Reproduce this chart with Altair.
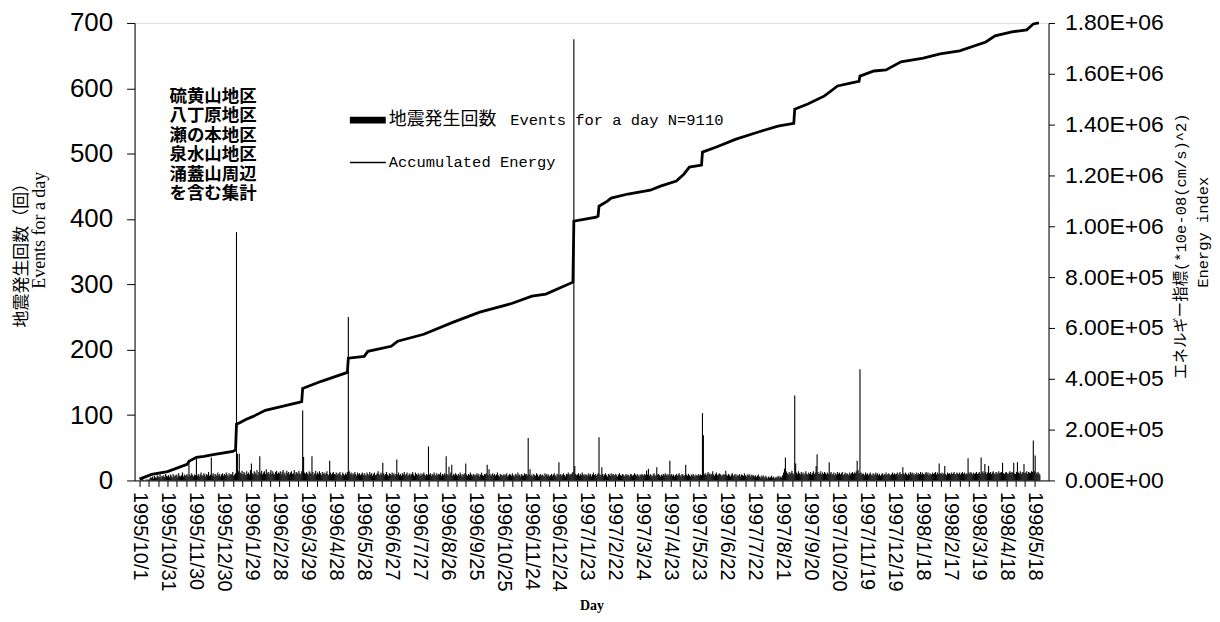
import altair as alt
import pandas as pd

# ---- daily event counts, in 30-day blocks starting 1995/10/1 ----
b00 = [0,1,0,2,1,0,1,0,2,1, 1,3,5,4,6,3,7,5,4,8, 6,5,9,4,7,6,8,5,10,7]
b01 = [6,8,5,9,7,4,10,6,8,7, 9,5,11,7,6,8,12,6,9,7, 8,10,6,28,9,7,11,8,6,9]
b02 = [8,33,7,10,6,9,12,8,7,11, 9,6,10,8,13,7,9,35,8,11, 6,10,9,7,12,8,10,6,9,11]
b03 = [7,10,8,12,9,6,11,8,10,9, 13,7,9,11,380,41,14,41,12,10, 15,9,13,11,8,14,10,12,9,16]
b04 = [26,11,9,14,12,10,16,8,13,37, 11,15,9,12,14,10,17,11,13,9, 12,16,10,14,11,9,13,15,10,12]
b05 = [11,14,9,13,16,10,12,8,15,11, 13,9,12,14,10,11,16,9,13,12, 10,15,11,9,14,107,36,12,10,13]
b06 = [11,9,14,12,10,37,13,8,11,15, 9,12,10,14,11,8,13,10,12,9, 11,14,10,8,30,12,9,11,13,10]
b07 = [9,12,8,11,10,13,9,7,12,10, 8,11,9,13,250,14,10,12,8,11, 9,13,10,7,12,9,11,8,10,12]
b08 = [8,11,9,7,12,10,8,13,9,11, 7,10,12,8,9,11,14,10,8,12, 9,27,11,8,10,13,9,7,11,10]
b09 = [8,12,9,11,7,10,32,9,12,8, 10,7,11,9,13,8,10,12,7,9, 11,8,10,13,9,7,12,10,8,11]
b10 = [9,7,11,8,10,12,9,7,10,8, 52,9,11,7,10,8,12,9,7,11, 8,10,9,12,7,10,8,11,9,37]
b11 = [10,8,21,9,12,24,7,10,8,11, 9,7,10,8,12,9,6,10,8,11, 26,9,7,10,8,12,9,7,10,8]
b12 = [9,7,11,8,10,6,9,12,8,7, 10,9,11,24,8,17,10,7,9,11, 8,10,7,9,12,8,6,10,9,7]
b13 = [8,10,7,9,11,6,8,10,9,7, 11,8,6,9,10,7,12,8,9,6, 10,8,7,11,9,10,8,65,9,17]
b14 = [7,9,6,10,8,7,11,9,6,8, 10,7,9,8,6,11,8,10,7,9, 6,8,10,7,9,11,8,6,10,9]
b15 = [28,8,10,7,9,11,8,6,10,9, 12,8,10,9,11,13,675,22,10,8, 9,11,7,10,8,12,9,7,10,8]
b16 = [9,7,11,8,10,6,9,12,8,10, 7,9,11,66,9,8,20,10,7,9, 11,8,6,10,9,7,11,8,10,9]
b17 = [7,10,8,6,9,11,8,7,10,9, 6,8,10,7,9,8,6,10,9,7, 8,11,9,7,10,8,6,9,8,10]
b18 = [9,7,10,8,15,9,18,7,10,8, 6,9,11,8,7,20,9,10,8,6, 9,7,10,8,11,9,7,10,8,30]
b19 = [8,10,7,9,6,8,10,7,9,11, 8,6,10,9,7,8,24,9,7,10, 8,6,9,7,10,8,6,9,7,8]
b20 = [10,7,9,8,103,69,9,11,8,10, 13,9,11,8,10,14,9,7,10,12, 8,9,11,10,8,7,9,10,8,15]
b21 = [9,7,10,8,6,9,11,7,8,10, 6,9,7,8,10,6,9,8,7,11, 8,6,9,7,10,8,6,9,7,8]
b22 = [6,8,5,7,9,6,4,7,5,8, 6,4,7,5,3,6,4,5,7,4, 6,3,5,4,6,5,7,4,6,5]
b23 = [8,12,18,35,14,11,9,13,10,12, 15,11,9,130,26,12,10,14,11,9, 13,10,12,8,11,14,10,9,12,10]
b24 = [13,9,11,14,10,12,22,40,13,10, 11,14,9,12,10,13,11,9,12,10, 28,11,13,9,10,12,8,11,9,13]
b25 = [10,12,9,11,13,8,10,12,9,11, 10,8,12,9,11,13,10,12,11,14, 30,16,11,170,12,9,11,10,8,12]
b26 = [9,11,8,10,12,9,7,11,10,8, 12,9,11,8,10,7,9,11,8,10, 9,12,8,10,11,9,8,10,12,9]
b27 = [11,9,10,12,8,11,13,9,10,20, 11,9,12,10,8,11,9,13,10,12, 9,11,8,10,12,9,11,10,13,9]
b28 = [12,10,9,11,13,10,12,8,11,10, 9,12,10,11,13,9,12,10,26,11, 10,12,9,11,22,10,8,12,10,11]
b29 = [9,12,10,11,13,10,9,12,11,10, 12,9,11,13,10,12,9,11,10,34, 12,10,13,11,9,12,10,11,13,10]
b30 = [11,13,10,35,12,14,11,25,13,10, 12,22,11,13,10,12,14,11,9,13, 12,10,14,11,12,13,27,11,10,12]
b31 = [13,11,10,12,14,11,13,12,27,11, 10,13,28,12,11,14,10,12,13,25, 11,12,14,10,13,12,11,14,13,61]
b32 = [14,38,12,10,13,11,9]

blocks = [b00,b01,b02,b03,b04,b05,b06,b07,b08,b09,b10,b11,b12,b13,b14,b15,b16,
          b17,b18,b19,b20,b21,b22,b23,b24,b25,b26,b27,b28,b29,b30,b31,b32]
counts = [v for b in blocks for v in b]
days = list(range(len(counts)))

# ---- accumulated energy (day index, value) ----
energy_day = [0, 2, 13, 30, 51, 53, 61, 69, 79, 100, 103, 104, 108, 114, 122, 135, 153,
              171, 174, 175, 195, 223, 224, 241, 245, 270, 277, 305, 336, 365, 400, 421,
              436, 465, 466, 490, 492, 493, 502, 506, 524, 548, 559, 576, 584, 590, 603,
              604, 619, 640, 664, 685, 702, 703, 717, 735, 749, 764, 772, 773, 788, 801,
              817, 841, 859, 880, 908, 918, 936, 952, 959, 965]
energy_val = [5e3, 8e3, 2.4e4, 3.5e4, 6.3e4, 7.5e4, 9.1e4, 9.5e4, 1.02e5, 1.14e5, 1.20e5,
              2.21e5, 2.28e5, 2.40e5, 2.52e5, 2.76e5, 2.91e5, 3.07e5, 3.10e5, 3.62e5, 3.90e5,
              4.25e5, 4.81e5, 4.88e5, 5.08e5, 5.28e5, 5.48e5, 5.75e5, 6.22e5, 6.62e5, 6.97e5,
              7.25e5, 7.33e5, 7.80e5, 1.020e6, 1.036e6, 1.040e6, 1.079e6, 1.099e6, 1.111e6,
              1.127e6, 1.142e6, 1.158e6, 1.178e6, 1.205e6, 1.233e6, 1.241e6, 1.292e6, 1.312e6,
              1.343e6, 1.371e6, 1.394e6, 1.405e6, 1.461e6, 1.481e6, 1.513e6, 1.552e6, 1.564e6,
              1.570e6, 1.591e6, 1.611e6, 1.615e6, 1.647e6, 1.662e6, 1.678e6, 1.690e6, 1.725e6,
              1.749e6, 1.765e6, 1.773e6, 1.796e6, 1.800e6]

left_ticks = [0, 100, 200, 300, 400, 500, 600, 700]
right_ticks = [0, 2e5, 4e5, 6e5, 8e5, 1e6, 1.2e6, 1.4e6, 1.6e6, 1.8e6]
x_ticks = list(range(0, 961, 10))

area_lines = ["硫黄山地区", "八丁原地区", "瀬の本地区", "泉水山地区", "涌蓋山周辺", "を含む集計"]
legend_bar_jp = "地震発生回数"
legend_bar_en = "Events for a day N=9110"
legend_line = "Accumulated Energy"
left_title = ["地震発生回数（回）", "Events for a day"]
right_title = ["エネルギー指標(*10e-08(cm/s)^2)", "Energy index"]

bars_df = pd.DataFrame({"day": days, "count": counts})
line_df = pd.DataFrame({"day": energy_day, "energy": energy_val})
one = pd.DataFrame({"k": [0]})

W, H = 917, 459

x_enc = alt.X(
    "day:Q",
    scale=alt.Scale(domain=[0, 970], nice=False, zero=False),
    axis=alt.Axis(
        values=x_ticks,
        labelExpr="datum.value % 30 == 0 ? timeFormat(datetime(1995, 9, 1 + datum.value), '%Y/%-m/%-d') : ''",
        labelAngle=90, labelAlign="left", labelBaseline="middle",
        labelFont="Liberation Sans", labelFontSize=20, labelColor="black",
        labelPadding=5, labelOverlap=False, labelBound=False, labelFlush=False,
        tickSize=6, tickColor="black", domainColor="black", grid=False,
        title="Day", titleFont="Liberation Serif", titleFontSize=14, titleFontWeight="bold",
        titleColor="black", titleY=125, titleBaseline="middle",
    ),
)

bars = alt.Chart(bars_df).mark_bar(color="black", size=1.1).encode(
    x=x_enc,
    y=alt.Y(
        "count:Q",
        scale=alt.Scale(domain=[0, 700], nice=False),
        axis=alt.Axis(
            values=left_ticks, labelFont="Liberation Sans", labelFontSize=26,
            labelColor="black", labelPadding=14, tickSize=8, tickColor="black",
            domainColor="black", grid=False, title=None,
        ),
    ),
)

line = alt.Chart(line_df).mark_line(color="black", strokeWidth=2.8).encode(
    x=x_enc,
    y=alt.Y(
        "energy:Q",
        scale=alt.Scale(domain=[0, 1.8e6], nice=False),
        axis=alt.Axis(
            orient="right", values=right_ticks,
            labelExpr="datum.value >= 1000000 ? format(datum.value / 1000000, '.2f') + 'E+06' : (datum.value > 0 ? format(datum.value / 100000, '.2f') + 'E+05' : '0.00E+00')",
            labelFont="Liberation Sans", labelFontSize=23, labelColor="black",
            labelPadding=10, tickSize=6, tickColor="black", domainColor="black",
            grid=False, title=None,
        ),
    ),
)

def txt(text, x, y, font, size, weight="normal", angle=0, align="left", baseline="middle", lh=None):
    kw = dict(text=text, font=font, fontSize=size, fontWeight=weight, angle=angle,
              align=align, baseline=baseline, color="black")
    if lh is not None:
        kw["lineBreak"] = "\n"
        kw["lineHeight"] = lh
    return alt.Chart(one).mark_text(**kw).encode(x=alt.value(x), y=alt.value(y))

area_text = txt("\n".join(area_lines), 35, 65, "Noto Sans CJK JP", 17.5, "bold", baseline="top", lh=19.6)

swatch_bar = alt.Chart(one).mark_rect(color="black").encode(
    x=alt.value(216), x2=alt.value(252), y=alt.value(94), y2=alt.value(101))
swatch_line = alt.Chart(one).mark_rule(color="black", strokeWidth=1.6).encode(
    x=alt.value(216), x2=alt.value(252), y=alt.value(140))

leg1a = txt(legend_bar_jp, 255, 97, "Noto Sans CJK JP", 18)
leg1b = txt(legend_bar_en, 377, 97, "Liberation Mono", 15.5)
leg2 = txt(legend_line, 255, 140, "Liberation Mono", 15.5)

lt1 = txt(left_title[0], -113, 229, "Noto Sans CJK JP", 17, angle=270, align="center")
lt2 = txt(left_title[1], -95, 208, "Liberation Serif", 18, angle=270, align="center")
rt1 = txt(right_title[0], 1050, 224, "Liberation Mono, Noto Sans CJK JP", 15.5, angle=270, align="center")
rt2 = txt(right_title[1], 1072, 210, "Liberation Mono", 15.5, angle=270, align="center")

chart = alt.layer(
    bars, line, area_text, swatch_bar, swatch_line, leg1a, leg1b, leg2, lt1, lt2, rt1, rt2
).resolve_scale(y="independent").properties(
    width=W, height=H,
    autosize=alt.AutoSizeParams(type="none"),
    padding={"left": 127, "top": 14, "right": 164, "bottom": 133},
).configure_view(stroke="black", strokeWidth=1).configure(background="white")

chart.save("out.html", embed_options={"renderer": "svg", "actions": False})
